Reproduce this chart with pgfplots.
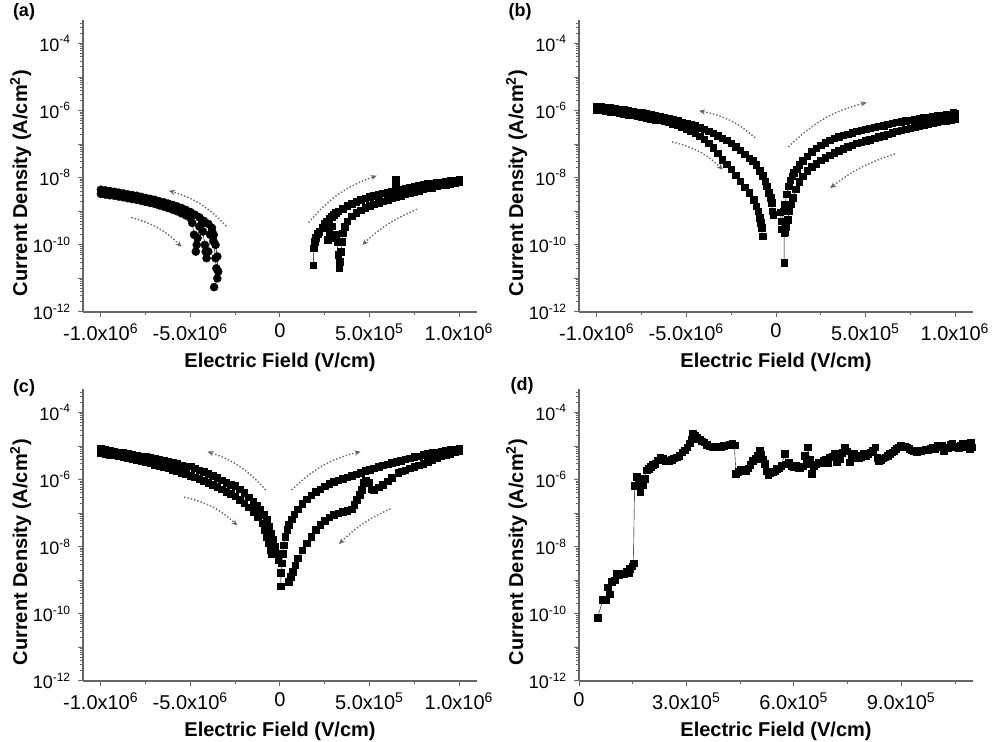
\documentclass[border=0pt]{standalone}
\usepackage{fontspec}
\setmainfont{Liberation Sans}
\usepackage{pgfplots}
\pgfplotsset{compat=1.18}
\usetikzlibrary{arrows.meta}

\pgfplotsset{
  ivpanel/.style={
    scale only axis, width=197pt, height=146pt,
    ymin=1e-12, ymax=5e-4,
    axis x line*=bottom, axis y line*=left,
    axis line style={black!60, line width=0.6pt, -},
    tick align=outside,
    major tick length=2.4pt, minor tick length=1.6pt,
    tick style={black!60, line width=0.5pt},
    ytick={1e-12,1e-11,1e-10,1e-9,1e-8,1e-7,1e-6,1e-5,1e-4},
    minor ytick={2e-12,3e-12,4e-12,5e-12,6e-12,7e-12,8e-12,9e-12,
                 2e-11,3e-11,4e-11,5e-11,6e-11,7e-11,8e-11,9e-11,
                 2e-10,3e-10,4e-10,5e-10,6e-10,7e-10,8e-10,9e-10,
                 2e-9,3e-9,4e-9,5e-9,6e-9,7e-9,8e-9,9e-9,
                 2e-8,3e-8,4e-8,5e-8,6e-8,7e-8,8e-8,9e-8,
                 2e-7,3e-7,4e-7,5e-7,6e-7,7e-7,8e-7,9e-7,
                 2e-6,3e-6,4e-6,5e-6,6e-6,7e-6,8e-6,9e-6,
                 2e-5,3e-5,4e-5,5e-5,6e-5,7e-5,8e-5,9e-5,
                 2e-4,3e-4,4e-4},
    yticklabels={10\textsuperscript{-12},,10\textsuperscript{-10},,10\textsuperscript{-8},,10\textsuperscript{-6},,10\textsuperscript{-4}},
    x tick label style={font=\fontsize{10}{11}\selectfont},
    y tick label style={font=\fontsize{9}{10}\selectfont},
    scaled x ticks=false,
    xlabel={Electric Field (V/cm)},
    ylabel={Current Density (A/cm\textsuperscript{2})},
    x label style={at={(axis description cs:0.5,-0.171)}, anchor=center, font=\bfseries\fontsize{10}{12}\selectfont},
    y label style={at={(axis description cs:-0.158,0.442)}, rotate=0, anchor=center, font=\bfseries\fontsize{10}{12}\selectfont},
    clip mode=individual,
  },
  ivfullx/.style={xmin=-1.1e6, xmax=1.1e6,
    xtick={-1e6,-5e5,0,5e5,1e6},
    minor xtick={-7.5e5,-2.5e5,2.5e5,7.5e5},
    xticklabels={-1.0x10\textsuperscript{6},-5.0x10\textsuperscript{6},0,5.0x10\textsuperscript{5},1.0x10\textsuperscript{6}}},
}
\tikzset{
  ivsym/.style={black, line width=0.25pt, mark=square*, mark size=1.65pt, mark options={solid}},
  ivcirc/.style={black, line width=0.25pt, mark=*, mark size=2pt, mark options={solid}},
  ivarr/.style={densely dotted, line width=0.7pt, black!60, -{Stealth[length=3pt,width=2.6pt]}},
}

\begin{document}
\begin{tikzpicture}
\useasboundingbox (0,0) rectangle (496pt,371pt);

% ---------------- (a) ----------------
\begin{axis}[ymode=log, ivpanel, ivfullx, at={(41.5pt,215pt)}, anchor=south west]
\addplot[ivcirc] coordinates {
(-3.45e5,1.6e-11) (-3.5e5,4.5e-11) (-3.6e5,1.0e-10) (-3.7e5,2.0e-10) (-3.8e5,3.2e-10)
(-4.0e5,4.2e-10) (-4.25e5,5.2e-10) (-4.5e5,6.6e-10) (-4.75e5,7.9e-10) (-5.0e5,9.5e-10)
(-5.25e5,1.1e-9) (-5.5e5,1.26e-9) (-5.75e5,1.4e-9) (-6.0e5,1.55e-9) (-6.25e5,1.7e-9)
(-6.5e5,1.86e-9) (-6.75e5,2.0e-9) (-7.0e5,2.2e-9) (-7.25e5,2.35e-9) (-7.5e5,2.5e-9)
(-7.75e5,2.7e-9) (-8.0e5,2.9e-9) (-8.25e5,3.05e-9) (-8.5e5,3.2e-9) (-8.75e5,3.4e-9)
(-9.0e5,3.6e-9) (-9.25e5,3.8e-9) (-9.5e5,4.0e-9) (-9.75e5,4.2e-9) (-1.0e6,4.4e-9)
};
\addplot[ivcirc] coordinates {
(-1.0e6,3.3e-9) (-9.75e5,3.15e-9) (-9.5e5,3.0e-9) (-9.25e5,2.9e-9) (-9.0e5,2.75e-9)
(-8.75e5,2.6e-9) (-8.5e5,2.45e-9) (-8.25e5,2.3e-9) (-8.0e5,2.2e-9) (-7.75e5,2.05e-9)
(-7.5e5,1.9e-9) (-7.25e5,1.78e-9) (-7.0e5,1.66e-9) (-6.75e5,1.5e-9) (-6.5e5,1.38e-9)
(-6.25e5,1.25e-9) (-6.0e5,1.12e-9) (-5.75e5,1.0e-9) (-5.5e5,8.7e-10) (-5.25e5,7.5e-10)
(-5.0e5,6.3e-10) (-4.9e5,4.5e-10) (-4.8e5,2.0e-10) (-4.7e5,6.3e-11) (-4.65e5,1.0e-10)
(-4.6e5,1.6e-10) (-4.5e5,3.5e-10) (-4.4e5,4.0e-10) (-4.3e5,2.5e-10) (-4.2e5,1.0e-10)
(-4.15e5,6.3e-11) (-4.1e5,4.0e-11) (-4.0e5,6.3e-11) (-3.9e5,2.0e-10) (-3.8e5,2.5e-10)
(-3.7e5,1.26e-10) (-3.6e5,4.0e-11) (-3.55e5,2.0e-11) (-3.5e5,1.0e-11) (-3.68e5,5.5e-12)
};
\addplot[ivsym] coordinates {
(1.85e5,2.5e-11) (1.9e5,8e-11) (1.95e5,1.26e-10) (2.0e5,1.6e-10) (2.1e5,2.1e-10)
(2.2e5,2.5e-10) (2.35e5,3.2e-10) (2.5e5,4.2e-10) (2.625e5,5.0e-10) (2.75e5,6.0e-10)
(2.875e5,7.0e-10) (3.0e5,7.9e-10) (3.125e5,9.0e-10)
(3.25e5,1.0e-9) (3.5e5,1.2e-9) (3.75e5,1.45e-9) (4.0e5,1.7e-9) (4.25e5,1.95e-9)
(4.5e5,2.2e-9) (4.75e5,2.45e-9) (5.0e5,2.7e-9) (5.25e5,2.95e-9) (5.5e5,3.15e-9)
(5.75e5,3.4e-9) (6.0e5,3.6e-9) (6.25e5,3.9e-9) (6.45e5,8.9e-9) (6.45e5,6.5e-9)
(6.5e5,4.2e-9) (6.75e5,4.5e-9) (7.0e5,4.8e-9) (7.25e5,5.1e-9) (7.5e5,5.5e-9)
(7.75e5,5.8e-9) (8.0e5,6.2e-9) (8.25e5,6.5e-9) (8.5e5,6.8e-9) (8.75e5,7.1e-9)
(9.0e5,7.4e-9) (9.25e5,7.8e-9) (9.5e5,8.1e-9) (9.75e5,8.5e-9) (1.0e6,8.9e-9)
};
\addplot[ivsym] coordinates {
(1.0e6,7.6e-9) (9.75e5,7.1e-9) (9.5e5,6.6e-9) (9.25e5,6.2e-9) (9.0e5,5.9e-9)
(8.75e5,5.5e-9) (8.5e5,5.1e-9) (8.25e5,4.8e-9) (8.0e5,4.5e-9) (7.75e5,4.1e-9)
(7.5e5,3.8e-9) (7.25e5,3.5e-9) (7.0e5,3.2e-9) (6.75e5,2.95e-9) (6.5e5,2.7e-9)
(6.25e5,2.45e-9) (6.0e5,2.2e-9) (5.75e5,2.0e-9) (5.5e5,1.8e-9) (5.25e5,1.6e-9)
(5.0e5,1.45e-9) (4.75e5,1.25e-9) (4.5e5,1.07e-9) (4.25e5,8.9e-10) (4.0e5,7.1e-10)
(3.75e5,5.0e-10) (3.6e5,3.5e-10) (3.5e5,2.2e-10) (3.45e5,1.26e-10) (3.4e5,6.3e-11)
(3.35e5,3.2e-11) (3.3e5,2.0e-11) (3.25e5,5.0e-11) (3.2e5,1.26e-10) (3.1e5,2.0e-10)
(3.0e5,1.6e-10) (2.9e5,3.6e-10) (2.75e5,2.5e-10) (2.65e5,1.4e-10)
};
\draw[ivarr] (axis cs:-3.0e5,3.6e-10) to[bend right=15] (axis cs:-6.2e5,4.1e-9);
\draw[ivarr] (axis cs:-8.3e5,6.5e-10) to[bend left=15] (axis cs:-5.5e5,8.7e-11);
\draw[ivarr] (axis cs:1.6e5,4.6e-10) to[bend left=15] (axis cs:5.4e5,1.15e-8);
\draw[ivarr] (axis cs:7.65e5,1.15e-9) to[bend right=10] (axis cs:4.6e5,1.0e-10);
\end{axis}

% ---------------- (b) ----------------
\begin{axis}[ymode=log, ivpanel, ivfullx, at={(289.5pt,215pt)}, anchor=south west]
\addplot[ivsym] coordinates {
(-1.5e4,7.9e-10) (-2.0e4,1.0e-9) (-2.5e4,1.8e-9) (-3.0e4,2.5e-9) (-4.0e4,3.5e-9)
(-5.0e4,5.6e-9) (-6.0e4,7.9e-9) (-7.5e4,1.15e-8) (-9.0e4,1.6e-8) (-1.1e5,2.4e-8)
(-1.3e5,3.2e-8) (-1.5e5,3.8e-8) (-1.75e5,5.0e-8) (-2.0e5,6.6e-8) (-2.25e5,8.5e-8)
(-2.5e5,1.07e-7) (-2.75e5,1.3e-7) (-3.0e5,1.5e-7) (-3.25e5,1.8e-7) (-3.5e5,2.1e-7)
(-3.75e5,2.4e-7) (-4.0e5,2.75e-7) (-4.25e5,3.1e-7) (-4.5e5,3.5e-7) (-4.75e5,3.8e-7)
(-5.0e5,4.2e-7) (-5.25e5,4.55e-7) (-5.5e5,4.9e-7) (-5.75e5,5.3e-7) (-6.0e5,5.8e-7)
(-6.25e5,6.2e-7) (-6.5e5,6.6e-7) (-6.75e5,7.1e-7) (-7.0e5,7.6e-7) (-7.25e5,8.0e-7)
(-7.5e5,8.5e-7) (-7.75e5,9.0e-7) (-8.0e5,9.5e-7) (-8.25e5,1.0e-6) (-8.5e5,1.05e-6)
(-8.75e5,1.1e-6) (-9.0e5,1.15e-6) (-9.25e5,1.2e-6) (-9.5e5,1.26e-6) (-9.75e5,1.3e-6)
(-1.0e6,1.35e-6)
};
\addplot[ivsym] coordinates {
(-1.0e6,1.07e-6) (-9.75e5,1.02e-6) (-9.5e5,9.8e-7) (-9.25e5,9.3e-7) (-9.0e5,8.9e-7)
(-8.75e5,8.4e-7) (-8.5e5,7.9e-7) (-8.25e5,7.5e-7) (-8.0e5,7.2e-7) (-7.75e5,6.8e-7)
(-7.5e5,6.5e-7) (-7.25e5,6.1e-7) (-7.0e5,5.8e-7) (-6.75e5,5.4e-7) (-6.5e5,5.1e-7)
(-6.25e5,4.8e-7) (-6.0e5,4.5e-7) (-5.75e5,4.1e-7) (-5.5e5,3.8e-7) (-5.25e5,3.3e-7)
(-5.0e5,2.8e-7) (-4.75e5,2.45e-7) (-4.5e5,2.1e-7) (-4.25e5,1.7e-7) (-4.0e5,1.4e-7)
(-3.75e5,1.05e-7) (-3.5e5,7.9e-8) (-3.25e5,5.4e-8)
(-3.0e5,3.5e-8) (-2.75e5,2.5e-8) (-2.5e5,1.8e-8) (-2.25e5,1.2e-8) (-2.0e5,7.9e-9)
(-1.75e5,5.2e-9) (-1.5e5,3.5e-9) (-1.25e5,2.2e-9) (-1.1e5,1.4e-9) (-1.0e5,1.0e-9)
(-9.0e4,6.3e-10) (-8.5e4,4.5e-10) (-8.0e4,3.2e-10) (-7.5e4,1.8e-10)
};
\addplot[ivsym] coordinates {
(2.4e4,9.3e-10) (3.0e4,5.0e-10) (3.3e4,2.9e-10) (4.0e4,1.0e-9) (5.0e4,1.6e-9)
(6.0e4,3.2e-9) (7.0e4,5.6e-9) (8.0e4,8.3e-9) (9.0e4,1.1e-8) (1.0e5,1.4e-8)
(1.15e5,1.8e-8) (1.3e5,2.4e-8) (1.5e5,3.2e-8) (1.75e5,4.4e-8) (2.0e5,6.0e-8)
(2.25e5,7.6e-8) (2.5e5,9.3e-8) (2.75e5,1.1e-7) (3.0e5,1.3e-7) (3.25e5,1.48e-7)
(3.5e5,1.66e-7) (3.75e5,1.83e-7) (4.0e5,2.0e-7) (4.25e5,2.2e-7) (4.5e5,2.4e-7)
(4.75e5,2.6e-7) (5.0e5,2.8e-7) (5.25e5,3.0e-7) (5.5e5,3.2e-7) (5.75e5,3.4e-7)
(6.0e5,3.6e-7) (6.25e5,3.9e-7) (6.5e5,4.2e-7) (6.75e5,4.45e-7) (7.0e5,4.7e-7)
(7.25e5,4.95e-7) (7.5e5,5.2e-7) (7.75e5,5.5e-7) (8.0e5,5.8e-7) (8.25e5,6.05e-7)
(8.5e5,6.3e-7) (8.75e5,6.6e-7) (9.0e5,6.9e-7) (9.25e5,7.15e-7) (9.5e5,7.4e-7)
(9.75e5,7.7e-7) (9.9e5,8.7e-7) (1.0e6,7.9e-7)
};
\addplot[ivsym] coordinates {
(1.0e6,5.6e-7) (9.75e5,5.3e-7) (9.5e5,5.0e-7) (9.25e5,4.75e-7) (9.0e5,4.5e-7)
(8.75e5,4.25e-7) (8.5e5,4.0e-7) (8.25e5,3.75e-7) (8.0e5,3.5e-7) (7.75e5,3.25e-7)
(7.5e5,3.0e-7) (7.25e5,2.8e-7) (7.0e5,2.6e-7) (6.75e5,2.4e-7) (6.5e5,2.2e-7)
(6.25e5,2.0e-7) (6.0e5,1.8e-7) (5.75e5,1.65e-7) (5.5e5,1.5e-7) (5.25e5,1.38e-7)
(5.0e5,1.26e-7) (4.75e5,1.15e-7) (4.5e5,1.05e-7) (4.25e5,9.4e-8) (4.0e5,8.3e-8)
(3.75e5,7.3e-8) (3.5e5,6.3e-8) (3.25e5,5.5e-8) (3.0e5,4.7e-8) (2.75e5,4.0e-8)
(2.5e5,3.3e-8) (2.25e5,2.6e-8) (2.0e5,2.1e-8) (1.75e5,1.6e-8) (1.5e5,1.1e-8)
(1.3e5,7.6e-9) (1.1e5,4.5e-9) (9.5e4,2.5e-9) (8.5e4,1.6e-9) (7.5e4,1.0e-9)
(6.5e4,5.6e-10) (5.5e4,3.5e-10) (5.0e4,2.5e-10) (4.6e4,2.3e-10) (4.6e4,2.9e-11)
};
\draw[ivarr] (axis cs:-1.16e5,1.55e-7) to[bend right=15] (axis cs:-4.3e5,9.8e-7);
\draw[ivarr] (axis cs:-5.8e5,1.17e-7) to[bend left=15] (axis cs:-2.97e5,1.74e-8);
\draw[ivarr] (axis cs:0.7e5,8.3e-8) to[bend left=15] (axis cs:5.07e5,1.74e-6);
\draw[ivarr] (axis cs:6.64e5,5.1e-8) to[bend right=10] (axis cs:3.02e5,4.9e-9);
\end{axis}

% ---------------- (c) ----------------
\begin{axis}[ymode=log, ivpanel, ivfullx, at={(41.5pt,30.5pt)}, anchor=south west]
\addplot[ivsym] coordinates {
(-1.0e4,4.0e-9) (-2.0e4,6.3e-9) (-3.0e4,1.0e-8) (-4.0e4,1.6e-8) (-5.0e4,2.5e-8)
(-6.0e4,4.0e-8) (-7.5e4,6.3e-8) (-9.0e4,8.9e-8) (-1.1e5,1.26e-7) (-1.3e5,1.66e-7)
(-1.5e5,2.2e-7) (-1.75e5,3.0e-7) (-2.0e5,4.0e-7) (-2.25e5,5.2e-7) (-2.5e5,6.6e-7)
(-2.75e5,7.1e-7) (-3.0e5,7.9e-7) (-3.25e5,9.5e-7) (-3.5e5,1.12e-6) (-3.75e5,1.3e-6)
(-4.0e5,1.5e-6) (-4.25e5,1.7e-6) (-4.5e5,1.9e-6) (-4.75e5,2.2e-6) (-5.0e5,2.5e-6)
(-5.25e5,2.4e-6) (-5.5e5,2.7e-6) (-5.75e5,2.95e-6) (-6.0e5,3.2e-6) (-6.25e5,3.4e-6)
(-6.5e5,3.6e-6) (-6.75e5,3.9e-6) (-7.0e5,4.2e-6) (-7.25e5,4.45e-6) (-7.5e5,4.7e-6)
(-7.75e5,4.95e-6) (-8.0e5,5.2e-6) (-8.25e5,5.5e-6) (-8.5e5,5.9e-6) (-8.75e5,6.2e-6)
(-9.0e5,6.6e-6) (-9.25e5,7.0e-6) (-9.5e5,7.4e-6) (-9.75e5,7.8e-6) (-1.0e6,8.3e-6)
};
\addplot[ivsym] coordinates {
(-1.0e6,6.3e-6) (-9.75e5,5.9e-6) (-9.5e5,5.6e-6) (-9.25e5,5.3e-6) (-9.0e5,5.0e-6)
(-8.75e5,4.7e-6) (-8.5e5,4.4e-6) (-8.25e5,4.1e-6) (-8.0e5,3.8e-6) (-7.75e5,3.55e-6)
(-7.5e5,3.3e-6) (-7.25e5,3.05e-6) (-7.0e5,2.8e-6) (-6.75e5,2.6e-6) (-6.5e5,2.4e-6)
(-6.25e5,2.2e-6) (-6.0e5,2.0e-6) (-5.75e5,1.8e-6) (-5.5e5,1.6e-6) (-5.25e5,1.45e-6)
(-5.0e5,1.3e-6) (-4.75e5,1.17e-6) (-4.5e5,1.05e-6) (-4.25e5,9.1e-7) (-4.0e5,7.9e-7)
(-3.75e5,6.9e-7) (-3.5e5,6.0e-7) (-3.25e5,5.1e-7) (-3.0e5,4.4e-7)
(-2.75e5,3.8e-7) (-2.5e5,3.2e-7) (-2.25e5,2.5e-7) (-2.0e5,2.0e-7) (-1.75e5,1.5e-7)
(-1.5e5,1.1e-7) (-1.25e5,7.9e-8) (-1.0e5,5.0e-8) (-8.5e4,3.2e-8) (-7.5e4,2.0e-8)
(-6.5e4,1.26e-8) (-5.5e4,7.9e-9) (-4.5e4,6.3e-9)
};
\addplot[ivsym] coordinates {
(5e3,6.6e-10) (5e3,1.66e-9) (1.0e4,3.2e-9) (1.5e4,6.3e-9) (2.0e4,1.1e-8)
(3.0e4,2.0e-8) (4.0e4,3.2e-8) (5.0e4,4.5e-8) (6.5e4,6.6e-8) (8.0e4,9.3e-8)
(1.0e5,1.3e-7) (1.25e5,1.9e-7) (1.5e5,2.6e-7) (1.75e5,3.4e-7) (2.0e5,4.3e-7)
(2.25e5,5.2e-7) (2.5e5,6.3e-7) (2.75e5,7.4e-7) (3.0e5,8.5e-7) (3.25e5,9.6e-7)
(3.5e5,1.07e-6) (3.75e5,1.18e-6) (4.0e5,1.3e-6) (4.25e5,1.45e-6) (4.5e5,1.6e-6)
(4.75e5,1.8e-6) (5.0e5,2.0e-6) (5.25e5,2.2e-6) (5.5e5,2.4e-6) (5.75e5,2.65e-6)
(6.0e5,2.9e-6) (6.25e5,3.15e-6) (6.5e5,3.4e-6) (6.75e5,3.7e-6) (7.0e5,4.0e-6)
(7.25e5,4.35e-6) (7.5e5,4.7e-6) (7.75e5,5.0e-6) (8.0e5,5.4e-6) (8.25e5,5.8e-6)
(8.5e5,6.2e-6) (8.75e5,6.5e-6) (9.0e5,6.9e-6) (9.25e5,7.3e-6) (9.5e5,7.8e-6)
(9.75e5,8.1e-6) (1.0e6,8.5e-6)
};
\addplot[ivsym] coordinates {
(1.0e6,7.1e-6) (9.75e5,6.5e-6) (9.5e5,6.0e-6) (9.25e5,5.5e-6) (9.0e5,5.0e-6)
(8.75e5,4.4e-6) (8.5e5,3.8e-6) (8.25e5,3.4e-6) (8.0e5,3.0e-6) (7.75e5,2.7e-6)
(7.5e5,2.4e-6) (7.25e5,2.15e-6) (7.0e5,1.9e-6) (6.8e5,1.75e-6) (6.6e5,1.6e-6)
(6.25e5,1.15e-6) (6.0e5,8.9e-7)
(5.75e5,7.1e-7) (5.5e5,5.9e-7) (5.25e5,5.0e-7) (5.1e5,5.2e-7) (4.95e5,7.9e-7)
(4.8e5,9.3e-7) (4.65e5,7.9e-7) (4.55e5,5.0e-7) (4.45e5,3.5e-7) (4.3e5,2.5e-7)
(4.15e5,1.8e-7) (4.0e5,1.3e-7) (3.75e5,1.2e-7) (3.5e5,1.1e-7) (3.25e5,1.0e-7)
(3.0e5,8.9e-8) (2.75e5,7.6e-8) (2.5e5,6.0e-8) (2.25e5,4.5e-8) (2.0e5,3.2e-8)
(1.75e5,2.0e-8) (1.5e5,1.26e-8) (1.25e5,7.9e-9) (1.0e5,4.5e-9) (8.5e4,2.8e-9)
(7.0e4,1.8e-9) (6.0e4,1.26e-9) (5.0e4,8.9e-10)
};
\draw[ivarr] (axis cs:-0.8e5,4.9e-7) to[bend right=15] (axis cs:-4.05e5,6.8e-6);
\draw[ivarr] (axis cs:-5.35e5,3.0e-7) to[bend left=15] (axis cs:-2.38e5,4.3e-8);
\draw[ivarr] (axis cs:0.65e5,4.9e-7) to[bend left=15] (axis cs:4.5e5,6.8e-6);
\draw[ivarr] (axis cs:6.17e5,1.35e-7) to[bend right=10] (axis cs:3.29e5,1.2e-8);
\end{axis}

% ---------------- (d) ----------------
\begin{axis}[ymode=log, ivpanel, at={(289.5pt,30.5pt)}, anchor=south west,
  xmin=0, xmax=1.1e6, xtick={0,3e5,6e5,9e5},
  minor xtick={1.5e5,4.5e5,7.5e5,10.5e5},
  xticklabels={0,3.0x10\textsuperscript{5},6.0x10\textsuperscript{5},9.0x10\textsuperscript{5}}]
\addplot[ivsym, line width=0.2pt] coordinates {
(51.6e3,7.8e-11) (67e3,2.6e-10) (75e3,2.6e-10) (80e3,6.3e-10) (86e3,3.8e-10)
(91e3,8.9e-10) (100e3,1.0e-9) (105e3,1.6e-9) (112e3,1.4e-9) (119e3,1.5e-9)
(126e3,1.6e-9) (133e3,1.8e-9) (138e3,1.7e-9) (142e3,2.2e-9) (148e3,2.6e-9)
(152e3,3.2e-9) (155e3,6.6e-7) (161e3,1.2e-6) (166e3,7.0e-7) (171e3,4.2e-7)
(177e3,7.0e-7) (183e3,1.05e-6) (189e3,1.9e-6) (194e3,2.1e-6) (200e3,2.4e-6)
(206e3,2.8e-6) (213e3,3.0e-6) (220e3,3.8e-6) (227e3,4.6e-6) (234e3,4.2e-6)
(241e3,3.6e-6) (250e3,3.6e-6) (258e3,3.9e-6) (265e3,4.3e-6) (272e3,4.6e-6)
(280e3,5.2e-6) (288e3,6.5e-6) (295e3,7.5e-6) (302e3,9.1e-6) (309e3,1.2e-5)
(314e3,1.6e-5) (318e3,2.4e-5) (324e3,2.0e-5) (330e3,1.8e-5) (337e3,1.6e-5)
(343e3,1.4e-5) (349e3,1.3e-5) (356e3,1.1e-5) (364e3,1.0e-5) (372e3,9.1e-6)
(380e3,9.5e-6) (388e3,1.0e-5) (396e3,9.5e-6) (404e3,1.02e-5) (412e3,1.05e-5)
(420e3,1.1e-5) (428e3,1.15e-5) (434e3,1.05e-5) (438e3,1.5e-6) (445e3,1.7e-6)
(452e3,2.0e-6) (459e3,1.9e-6) (466e3,1.8e-6) (472e3,2.2e-6) (478e3,2.8e-6)
(485e3,3.6e-6) (492e3,4.2e-6) (499e3,5.1e-6) (504e3,7.2e-6) (508e3,5.6e-6)
(513e3,4.0e-6) (518e3,3.0e-6) (523e3,1.8e-6) (528e3,1.4e-6) (534e3,1.6e-6)
(540e3,1.7e-6) (546e3,1.8e-6) (552e3,2.1e-6) (558e3,2.2e-6) (565e3,2.6e-6)
(574e3,5.8e-6) (578e3,2.9e-6) (585e3,3.2e-6) (592e3,2.6e-6) (598e3,2.4e-6)
(605e3,2.7e-6) (612e3,2.2e-6) (618e3,2.3e-6) (624e3,2.5e-6) (630e3,5.1e-6)
(635e3,3.0e-6) (639e3,9.1e-6) (644e3,4.0e-6) (649e3,1.5e-6) (655e3,2.6e-6)
(662e3,2.9e-6) (668e3,3.3e-6) (675e3,3.1e-6) (682e3,3.6e-6) (689e3,4.0e-6)
(694e3,3.2e-6) (700e3,4.6e-6) (707e3,5.0e-6) (714e3,5.8e-6) (720e3,3.4e-6)
(728e3,4.1e-6) (735e3,6.3e-6) (742e3,9.1e-6) (748e3,7.0e-6) (756e3,3.3e-6)
(762e3,4.5e-6) (768e3,6.0e-6) (775e3,5.1e-6) (782e3,4.3e-6) (788e3,4.9e-6)
(794e3,5.8e-6) (800e3,5.2e-6) (806e3,6.0e-6) (813e3,6.5e-6) (820e3,7.2e-6)
(827e3,9.1e-6) (832e3,4.4e-6) (836e3,3.6e-6) (842e3,3.9e-6) (849e3,4.3e-6)
(855e3,4.6e-6) (862e3,5.2e-6) (868e3,6.0e-6) (874e3,6.5e-6) (880e3,7.4e-6)
(886e3,8.3e-6) (892e3,9.3e-6) (898e3,1.02e-5) (904e3,1.0e-5) (910e3,9.5e-6)
(916e3,9.1e-6) (922e3,8.3e-6) (928e3,7.6e-6) (935e3,7.0e-6) (942e3,6.8e-6)
(948e3,7.2e-6) (955e3,7.0e-6) (962e3,7.6e-6) (968e3,8.1e-6) (975e3,7.8e-6)
(982e3,8.5e-6) (988e3,9.1e-6) (994e3,8.3e-6) (1000e3,1.02e-5) (1006e3,9.5e-6)
(1012e3,1.05e-5) (1019e3,7.2e-6) (1025e3,9.1e-6) (1031e3,8.5e-6) (1037e3,1.1e-5)
(1042e3,1.15e-5) (1048e3,9.5e-6) (1054e3,1.0e-5) (1060e3,8.7e-6) (1066e3,1.02e-5)
(1072e3,1.2e-5) (1078e3,9.1e-6) (1084e3,1.0e-5) (1090e3,8.3e-6) (1094e3,1.3e-5)
(1097e3,9.1e-6)
};
\end{axis}

\node[font=\bfseries\fontsize{9}{10}\selectfont] at (12pt,365pt) {(a)};
\node[font=\bfseries\fontsize{9}{10}\selectfont] at (260pt,365pt) {(b)};
\node[font=\bfseries\fontsize{9}{10}\selectfont] at (12pt,177pt) {(c)};
\node[font=\bfseries\fontsize{9}{10}\selectfont] at (261pt,178pt) {(d)};
\end{tikzpicture}
\end{document}
